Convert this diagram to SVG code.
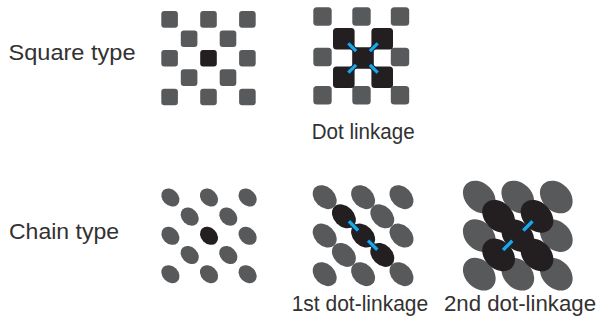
<svg xmlns="http://www.w3.org/2000/svg" width="599" height="325" viewBox="0 0 599 325">
<style>
.lbl{font-family:"Liberation Sans",Arial,Helvetica,sans-serif;font-size:22px;fill:#333132}
.g{fill:#58595b}
.d{fill:#231f20}
.bar{fill:#1ba9e1;stroke:#14213d;stroke-width:1}
</style>
<defs>
<rect id="sq" x="-8.3" y="-8.3" width="16.6" height="16.6" rx="3"/>
<rect id="sqm" x="-9.2" y="-9.2" width="18.4" height="18.4" rx="3.5"/>
<rect id="sqd" x="-10.8" y="-10.8" width="21.6" height="21.6" rx="3.5"/>
<ellipse id="e1" rx="10.1" ry="7.9" transform="rotate(45)"/>
<ellipse id="e2" rx="13.6" ry="10.1" transform="rotate(45)"/>
<ellipse id="e3" rx="18.4" ry="14" transform="rotate(45)"/>
<rect id="b1" x="-6" y="-2.1" width="12" height="4.2" rx="0.5"/>
<rect id="b2" x="-7" y="-2.2" width="14" height="4.4" rx="0.5"/>
</defs>

<g id="square-type">
<use href="#sq" class="g" x="169.6" y="19.4"/>
<use href="#sq" class="g" x="208.5" y="19.4"/>
<use href="#sq" class="g" x="247.4" y="19.4"/>
<use href="#sq" class="g" x="189.1" y="38.8"/>
<use href="#sq" class="g" x="228" y="38.8"/>
<use href="#sq" class="g" x="169.6" y="58.2"/>
<use href="#sq" class="d" x="208.5" y="58.2"/>
<use href="#sq" class="g" x="247.4" y="58.2"/>
<use href="#sq" class="g" x="189.1" y="77.6"/>
<use href="#sq" class="g" x="228" y="77.6"/>
<use href="#sq" class="g" x="169.6" y="97"/>
<use href="#sq" class="g" x="208.5" y="97"/>
<use href="#sq" class="g" x="247.4" y="97"/>
</g>

<g id="dot-linkage">
<use href="#sqm" class="g" x="322.5" y="16.5"/>
<use href="#sqm" class="g" x="361.5" y="16.5"/>
<use href="#sqm" class="g" x="400" y="16.5"/>
<use href="#sqm" class="g" x="322.5" y="57"/>
<use href="#sqm" class="g" x="400" y="57"/>
<use href="#sqm" class="g" x="322.5" y="95.2"/>
<use href="#sqm" class="g" x="361.5" y="95.2"/>
<use href="#sqm" class="g" x="400" y="95.2"/>
<use href="#sqd" class="d" x="343.8" y="38.8"/>
<use href="#sqd" class="d" x="382.2" y="38.8"/>
<use href="#sqd" class="d" x="363" y="58"/>
<use href="#sqd" class="d" x="343.8" y="77.2"/>
<use href="#sqd" class="d" x="382.2" y="77.2"/>
</g>

<g id="chain-type">
<use href="#e1" class="g" x="170.4" y="197.5"/>
<use href="#e1" class="g" x="209" y="197.5"/>
<use href="#e1" class="g" x="247.6" y="197.5"/>
<use href="#e1" class="g" x="189.7" y="216.6"/>
<use href="#e1" class="g" x="228.3" y="216.6"/>
<use href="#e1" class="g" x="170.4" y="235.8"/>
<use href="#e1" class="d" x="209" y="235.8"/>
<use href="#e1" class="g" x="247.6" y="235.8"/>
<use href="#e1" class="g" x="189.7" y="255"/>
<use href="#e1" class="g" x="228.3" y="255"/>
<use href="#e1" class="g" x="170.4" y="274.2"/>
<use href="#e1" class="g" x="209" y="274.2"/>
<use href="#e1" class="g" x="247.6" y="274.2"/>
</g>

<g id="first-dot-linkage">
<use href="#e2" class="g" x="324.7" y="197.2"/>
<use href="#e2" class="g" x="363.1" y="197.2"/>
<use href="#e2" class="g" x="401.5" y="197.2"/>
<use href="#e2" class="g" x="382.3" y="216.3"/>
<use href="#e2" class="g" x="324.7" y="235.6"/>
<use href="#e2" class="g" x="401.5" y="235.6"/>
<use href="#e2" class="g" x="343.9" y="254.9"/>
<use href="#e2" class="g" x="324.7" y="274.2"/>
<use href="#e2" class="g" x="363.1" y="274.2"/>
<use href="#e2" class="g" x="401.5" y="274.2"/>
<use href="#e2" class="d" x="343.9" y="216.3"/>
<use href="#e2" class="d" x="363.1" y="235.6"/>
<use href="#e2" class="d" x="382.3" y="254.9"/>
</g>

<g id="second-dot-linkage">
<use href="#e3" class="g" x="479.3" y="197"/>
<use href="#e3" class="g" x="517.8" y="197"/>
<use href="#e3" class="g" x="556.3" y="197"/>
<use href="#e3" class="g" x="479.3" y="235.6"/>
<use href="#e3" class="g" x="556.3" y="235.6"/>
<use href="#e3" class="g" x="479.3" y="274.2"/>
<use href="#e3" class="g" x="517.8" y="274.2"/>
<use href="#e3" class="g" x="556.3" y="274.2"/>
<use href="#e3" class="d" x="498.6" y="216.3"/>
<use href="#e3" class="d" x="537" y="216.3"/>
<use href="#e3" class="d" x="517.8" y="235.6"/>
<use href="#e3" class="d" x="498.6" y="254.9"/>
<use href="#e3" class="d" x="537" y="254.9"/>
</g>

<g id="links">
<use href="#b1" class="bar" transform="translate(352.2,47.2) rotate(45)"/>
<use href="#b1" class="bar" transform="translate(373.8,47.2) rotate(-45)"/>
<use href="#b1" class="bar" transform="translate(352.2,68.8) rotate(-45)"/>
<use href="#b1" class="bar" transform="translate(373.8,68.8) rotate(45)"/>
<use href="#b2" class="bar" transform="translate(353.5,225.9) rotate(45)"/>
<use href="#b2" class="bar" transform="translate(372.7,245.2) rotate(45)"/>
<use href="#b2" class="bar" transform="translate(527.9,225.9) rotate(-45)"/>
<use href="#b2" class="bar" transform="translate(507.7,245.4) rotate(-45)"/>
</g>

<g id="labels">
<text class="lbl" x="8.5" y="60" textLength="127" lengthAdjust="spacingAndGlyphs">Square type</text>
<text class="lbl" x="9" y="239" textLength="110" lengthAdjust="spacingAndGlyphs">Chain type</text>
<text class="lbl" x="311.7" y="139" textLength="103" lengthAdjust="spacingAndGlyphs">Dot linkage</text>
<text class="lbl" x="291.7" y="311" textLength="136.5" lengthAdjust="spacingAndGlyphs">1st dot-linkage</text>
<text class="lbl" x="444" y="311" textLength="152" lengthAdjust="spacingAndGlyphs">2nd dot-linkage</text>
</g>
</svg>
